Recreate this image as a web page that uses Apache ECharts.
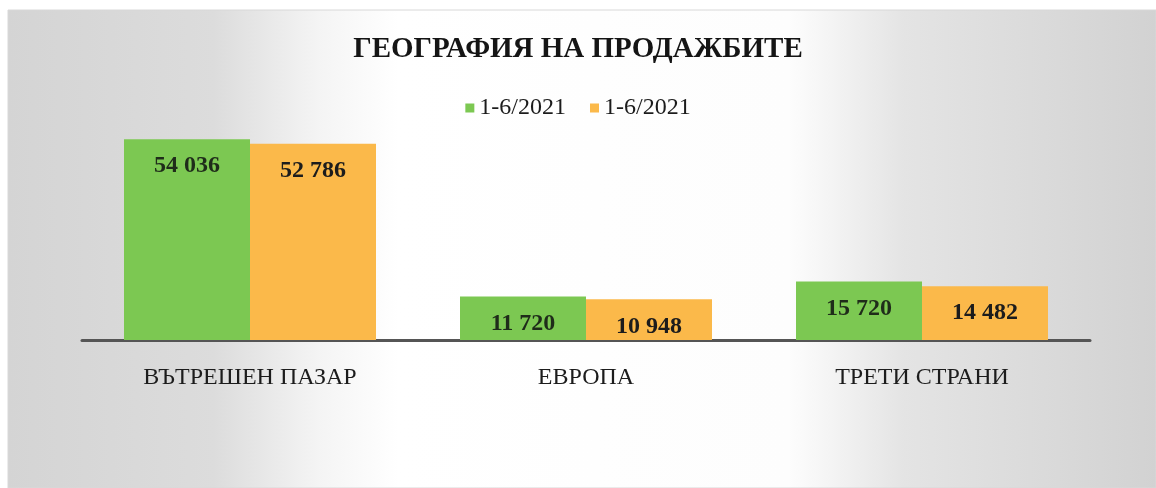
<!DOCTYPE html>
<html>
<head>
<meta charset="utf-8">
<script src="https://cdn.jsdelivr.net/npm/echarts@6/dist/echarts.min.js"></script>
<style>
  html, body { margin: 0; padding: 0; background: #ffffff; }
  #chart { width: 1156px; height: 488px; }
</style>
</head>
<body>
<div id="chart"></div>
<script>
// данни
const categories = ['ВЪТРЕШЕН ПАЗАР', 'ЕВРОПА', 'ТРЕТИ СТРАНИ'];
const seriesNames = ['1-6/2021', '1-6/2021'];
const greenValues = [54036, 11720, 15720];
const orangeValues = [52786, 10948, 14482];

const serif = '"Liberation Serif", "Times New Roman", serif';

function fmt(v) {
  return String(v).replace(/\B(?=(\d{3})+(?!\d))/g, ' ');
}

const chart = echarts.init(document.getElementById('chart'));

const labelStyle = {
  show: true,
  position: 'insideTop',
  distance: 15,
  fontFamily: serif,
  fontWeight: 'bold',
  fontSize: 24,
  color: '#1c1c1c',
  formatter: p => fmt(p.value)
};

chart.setOption({
  backgroundColor: 'transparent',
  graphic: [
    {
      type: 'rect',
      silent: true,
      z: -10,
      shape: { x: 8, y: 10, width: 1148, height: 478 },
      style: {
        fill: {
          type: 'linear', x: 0, y: 0, x2: 1, y2: 0,
          colorStops: [
            { offset: 0, color: '#d4d4d4' },
            { offset: 0.18, color: '#dcdcdc' },
            { offset: 0.27, color: '#f4f4f4' },
            { offset: 0.34, color: '#ffffff' },
            { offset: 0.68, color: '#fdfdfd' },
            { offset: 0.78, color: '#e4e4e4' },
            { offset: 1, color: '#d2d2d2' }
          ]
        },
        stroke: '#d8d8d8',
        lineWidth: 1
      }
    }
  ],
  title: {
    text: 'ГЕОГРАФИЯ НА ПРОДАЖБИТЕ',
    left: 'center',
    top: 30,
    textStyle: { fontFamily: serif, fontWeight: 'bold', fontSize: 29, color: '#151515' }
  },
  legend: {
    data: [
      { name: seriesNames[0], itemStyle: { color: '#7cc852' } },
      { name: 'b', itemStyle: { color: '#fbb94a' } }
    ],
    top: 91,
    left: 'center',
    itemWidth: 9,
    itemHeight: 9,
    itemGap: 24,
    icon: 'rect',
    formatter: n => n === 'b' ? seriesNames[1] : n,
    textStyle: { fontFamily: serif, fontSize: 24, color: '#1c1c1c' }
  },
  grid: { left: 82, right: 66, top: 117, bottom: 148 },
  xAxis: {
    type: 'category',
    data: categories,
    axisLine: { lineStyle: { color: '#555555', width: 3 } },
    axisTick: { show: false },
    axisLabel: { fontFamily: serif, fontSize: 24, color: '#1c1c1c', margin: 26 }
  },
  yAxis: {
    type: 'value',
    min: 0,
    max: 60000,
    show: false,
    splitLine: { show: false }
  },
  series: [
    {
      name: seriesNames[0],
      type: 'bar',
      data: greenValues,
      barWidth: 126,
      barGap: '0%',
      itemStyle: { color: '#7cc852' },
      label: Object.assign({}, labelStyle, { color: '#1f2c1a' })
    },
    {
      name: 'b',
      type: 'bar',
      data: orangeValues,
      barWidth: 126,
      itemStyle: { color: '#fbb94a' },
      label: labelStyle
    }
  ]
});
</script>
</body>
</html>
